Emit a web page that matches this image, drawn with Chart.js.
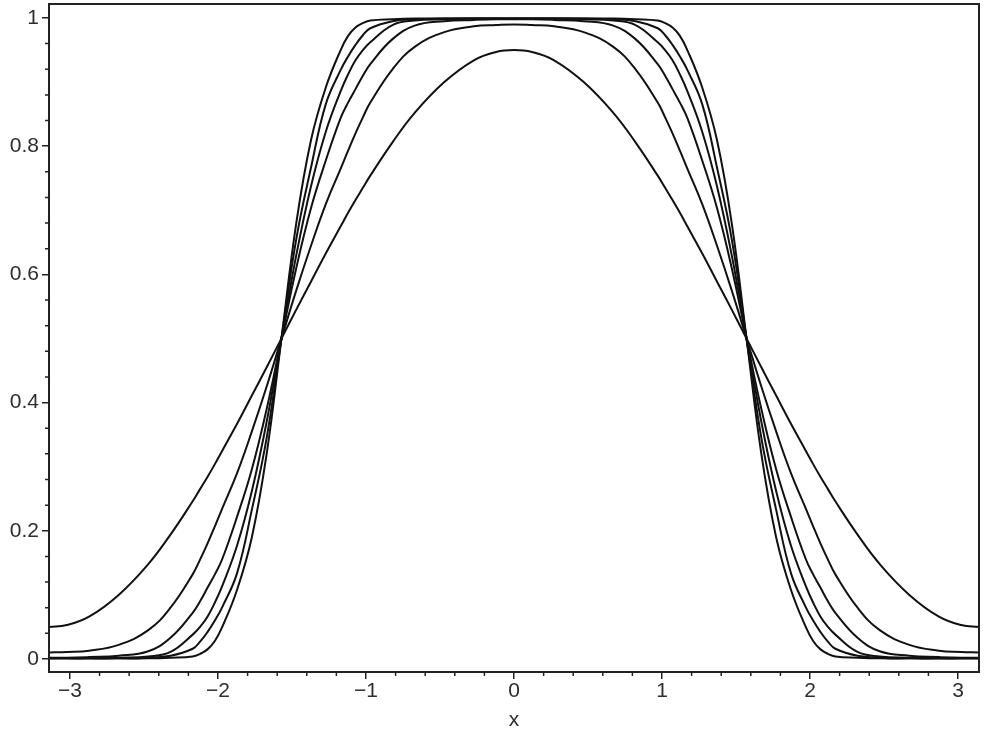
<!DOCTYPE html>
<html>
<head>
<meta charset="utf-8">
<script src="https://cdn.jsdelivr.net/npm/chart.js@4.4.1/dist/chart.umd.min.js"></script>
<style>
  html, body { margin: 0; padding: 0; background: #ffffff; }
  #wrap { width: 985px; height: 733px; }
</style>
</head>
<body>
<div id="wrap"><canvas id="c" width="985" height="733"></canvas></div>
<script>
// Sample positions along x
const xValues = [-3.142, -3.021, -2.871, -2.671, -2.471, -2.321, -2.171, -2.121, -2.071, -2.021, -1.971, -1.871, -1.771, -1.671, -1.571,
  -1.471, -1.371, -1.271, -1.171, -1.121, -1.071, -1.021, -0.971, -0.821, -0.671, -0.471, -0.271, -0.121, 0,
  0.121, 0.271, 0.471, 0.671, 0.821, 0.971, 1.021, 1.071, 1.121, 1.171, 1.271, 1.371, 1.471,
  1.571, 1.671, 1.771, 1.871, 1.971, 2.021, 2.071, 2.121, 2.171, 2.321, 2.471, 2.671, 2.871, 3.021, 3.142];

// Six curves, widest to steepest
const curve1 = [0.050, 0.053, 0.066, 0.100, 0.148, 0.194, 0.246, 0.265, 0.284, 0.304, 0.325, 0.367, 0.411, 0.455, 0.500,
  0.545, 0.589, 0.633, 0.675, 0.696, 0.716, 0.735, 0.754, 0.806, 0.852, 0.900, 0.934, 0.947, 0.950,
  0.947, 0.934, 0.900, 0.852, 0.806, 0.754, 0.735, 0.716, 0.696, 0.675, 0.633, 0.589, 0.545,
  0.500, 0.455, 0.411, 0.367, 0.325, 0.304, 0.284, 0.265, 0.246, 0.194, 0.148, 0.100, 0.066, 0.053, 0.050];
const curve2 = [0.010, 0.011, 0.013, 0.022, 0.045, 0.080, 0.132, 0.155, 0.180, 0.207, 0.235, 0.290, 0.355, 0.425, 0.500,
  0.575, 0.645, 0.710, 0.765, 0.793, 0.820, 0.845, 0.868, 0.920, 0.955, 0.978, 0.987, 0.989, 0.990,
  0.989, 0.987, 0.978, 0.955, 0.920, 0.868, 0.845, 0.820, 0.793, 0.765, 0.710, 0.645, 0.575,
  0.500, 0.425, 0.355, 0.290, 0.235, 0.207, 0.180, 0.155, 0.132, 0.080, 0.045, 0.022, 0.013, 0.011, 0.010];
const curve3 = [0.002, 0.002, 0.003, 0.005, 0.012, 0.033, 0.072, 0.090, 0.111, 0.132, 0.156, 0.222, 0.296, 0.390, 0.500,
  0.610, 0.704, 0.778, 0.844, 0.868, 0.889, 0.910, 0.928, 0.967, 0.988, 0.995, 0.997, 0.998, 0.998,
  0.998, 0.997, 0.995, 0.988, 0.967, 0.928, 0.910, 0.889, 0.868, 0.844, 0.778, 0.704, 0.610,
  0.500, 0.390, 0.296, 0.222, 0.156, 0.132, 0.111, 0.090, 0.072, 0.033, 0.012, 0.005, 0.003, 0.002, 0.002];
const curve4 = [0.001, 0.001, 0.001, 0.002, 0.004, 0.011, 0.038, 0.050, 0.066, 0.088, 0.114, 0.177, 0.262, 0.370, 0.500,
  0.630, 0.738, 0.823, 0.886, 0.912, 0.934, 0.950, 0.962, 0.989, 0.996, 0.998, 0.999, 0.999, 0.999,
  0.999, 0.999, 0.998, 0.996, 0.989, 0.962, 0.950, 0.934, 0.912, 0.886, 0.823, 0.738, 0.630,
  0.500, 0.370, 0.262, 0.177, 0.114, 0.088, 0.066, 0.050, 0.038, 0.011, 0.004, 0.002, 0.001, 0.001, 0.001];
const curve5 = [0.001, 0.001, 0.001, 0.001, 0.002, 0.005, 0.016, 0.027, 0.042, 0.060, 0.081, 0.134, 0.233, 0.345, 0.500,
  0.655, 0.767, 0.866, 0.919, 0.940, 0.958, 0.973, 0.984, 0.995, 0.998, 0.999, 0.999, 0.999, 0.999,
  0.999, 0.999, 0.999, 0.998, 0.995, 0.984, 0.973, 0.958, 0.940, 0.919, 0.866, 0.767, 0.655,
  0.500, 0.345, 0.233, 0.134, 0.081, 0.060, 0.042, 0.027, 0.016, 0.005, 0.002, 0.001, 0.001, 0.001, 0.001];
const curve6 = [0.001, 0.001, 0.001, 0.001, 0.001, 0.002, 0.004, 0.008, 0.015, 0.028, 0.050, 0.108, 0.190, 0.320, 0.500,
  0.680, 0.810, 0.892, 0.950, 0.972, 0.985, 0.992, 0.996, 0.998, 0.999, 0.999, 0.999, 0.999, 0.999,
  0.999, 0.999, 0.999, 0.999, 0.998, 0.996, 0.992, 0.985, 0.972, 0.950, 0.892, 0.810, 0.680,
  0.500, 0.320, 0.190, 0.108, 0.050, 0.028, 0.015, 0.008, 0.004, 0.002, 0.001, 0.001, 0.001, 0.001, 0.001];

// Axis ticks
const xMajorTicks = [-3, -2, -1, 0, 1, 2, 3];
const xTickLabels = ['\u22123', '\u22122', '\u22121', '0', '1', '2', '3'];
const yMajorTicks = [0, 0.2, 0.4, 0.6, 0.8, 1];
const yTickLabels = ['0', '0.2', '0.4', '0.6', '0.8', '1'];
const xMinorTicks = [-2.8, -2.6, -2.4, -2.2, -1.8, -1.6, -1.4, -1.2, -0.8, -0.6, -0.4, -0.2,
  0.2, 0.4, 0.6, 0.8, 1.2, 1.4, 1.6, 1.8, 2.2, 2.4, 2.6, 2.8];
const yMinorTicks = [0.04, 0.08, 0.12, 0.16, 0.24, 0.28, 0.32, 0.36, 0.44, 0.48, 0.52, 0.56,
  0.64, 0.68, 0.72, 0.76, 0.84, 0.88, 0.92, 0.96];
const xTitle = 'x';

const allCurves = [curve1, curve2, curve3, curve4, curve5, curve6];
const AXIS = '#222222';
const TEXT = '#2e2e2e';

Chart.defaults.font.family = '"Liberation Sans", Arial, Helvetica, sans-serif';

const framePlugin = {
  id: 'frameAndMinor',
  afterDraw(chart) {
    const ctx = chart.ctx;
    const a = chart.chartArea;
    const xs = chart.scales.x, ys = chart.scales.y;
    ctx.save();
    ctx.strokeStyle = AXIS;
    ctx.lineWidth = 2;
    ctx.strokeRect(a.left, a.top, a.right - a.left, a.bottom - a.top);
    ctx.lineWidth = 1.5;
    ctx.beginPath();
    xMinorTicks.forEach(v => {
      const px = xs.getPixelForValue(v);
      ctx.moveTo(px, a.bottom);
      ctx.lineTo(px, a.bottom + 4);
    });
    yMinorTicks.forEach(v => {
      const py = ys.getPixelForValue(v);
      ctx.moveTo(a.left, py);
      ctx.lineTo(a.left - 4, py);
    });
    ctx.stroke();
    ctx.restore();
  }
};

new Chart(document.getElementById('c'), {
  type: 'line',
  data: {
    datasets: allCurves.map((ys, k) => ({
      label: 'curve ' + (k + 1),
      data: xValues.map((x, i) => ({ x: x, y: ys[i] })),
      borderColor: '#111111',
      borderWidth: 2,
      pointRadius: 0,
      fill: false,
      tension: 0.42
    }))
  },
  options: {
    responsive: false,
    animation: false,
    devicePixelRatio: 1,
    layout: { padding: { left: 0, right: 6, top: 4, bottom: 0 } },
    plugins: { legend: { display: false }, tooltip: { enabled: false } },
    scales: {
      x: {
        type: 'linear',
        min: -3.1416,
        max: 3.1416,
        afterBuildTicks: s => { s.ticks = xMajorTicks.map(v => ({ value: v })); },
        afterFit: s => { s.height = 61; s.paddingLeft = 0; s.paddingRight = 0; },
        ticks: {
          autoSkip: false,
          maxRotation: 0,
          padding: 0,
          color: TEXT,
          font: { size: 21 },
          callback: (v) => { const i = xMajorTicks.indexOf(v); return i >= 0 ? xTickLabels[i] : ''; }
        },
        grid: { drawOnChartArea: false, drawTicks: true, tickLength: 7, color: AXIS, lineWidth: 1.5 },
        border: { display: true, color: AXIS, width: 2 },
        title: { display: true, text: xTitle, color: TEXT, font: { size: 21 }, padding: { top: 3, bottom: 0 } }
      },
      y: {
        type: 'linear',
        min: -0.0203,
        max: 1.0218,
        afterBuildTicks: s => { s.ticks = yMajorTicks.map(v => ({ value: v })); },
        afterFit: s => { s.width = 49; s.paddingTop = 0; s.paddingBottom = 0; },
        ticks: {
          padding: 3,
          color: TEXT,
          font: { size: 21 },
          callback: (v) => { const i = yMajorTicks.indexOf(v); return i >= 0 ? yTickLabels[i] : ''; }
        },
        grid: { drawOnChartArea: false, drawTicks: true, tickLength: 7, color: AXIS, lineWidth: 1.5 },
        border: { display: true, color: AXIS, width: 2 }
      }
    }
  },
  plugins: [framePlugin]
});
</script>
</body>
</html>
